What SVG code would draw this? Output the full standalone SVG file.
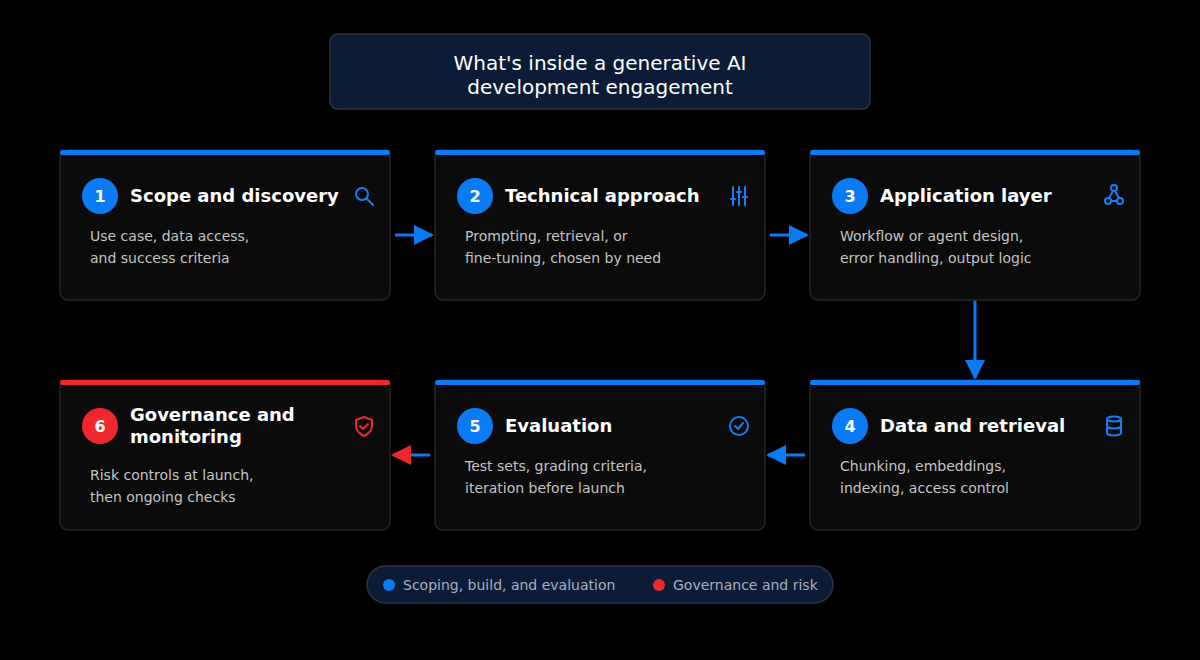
<svg xmlns="http://www.w3.org/2000/svg" width="1200" height="660" viewBox="0 0 1200 660">
<defs>
<style>
.card{fill:#0b0b0b;stroke:#262626;stroke-width:1.5}
.t{font-family:"DejaVu Sans",sans-serif;font-weight:bold;font-size:18px;fill:#fff}
.n{font-family:"DejaVu Sans",sans-serif;font-weight:bold;font-size:16px;fill:#fff;text-anchor:middle}
.b{font-family:"DejaVu Sans",sans-serif;font-size:14px;fill:#c4c4c4}
.ic{fill:none;stroke:#1a7cf0;stroke-width:2;stroke-linecap:round;stroke-linejoin:round}
.icr{fill:none;stroke:#f0282e;stroke-width:2;stroke-linecap:round;stroke-linejoin:round}
.con{stroke:#0a7af5;stroke-width:3;fill:none}
</style>
<marker id="ab" viewBox="0 0 10 10" refX="9" refY="5" markerWidth="20" markerHeight="20" markerUnits="userSpaceOnUse" orient="auto"><path d="M0,0L10,5L0,10z" fill="#0a7af5"/></marker>
<marker id="ar" viewBox="0 0 10 10" refX="9" refY="5" markerWidth="20" markerHeight="20" markerUnits="userSpaceOnUse" orient="auto"><path d="M0,0L10,5L0,10z" fill="#f0282e"/></marker>
</defs>
<rect width="1200" height="660" fill="#000"/>
<g id="title">
<rect x="330" y="34" width="540" height="75" rx="8" fill="#0c1c36" stroke="#2a3548" stroke-width="1.5"/>
<text x="600" y="70" font-family="DejaVu Sans,sans-serif" font-size="20" fill="#fff" text-anchor="middle">What's inside a generative AI</text>
<text x="600" y="94" font-family="DejaVu Sans,sans-serif" font-size="20" fill="#fff" text-anchor="middle">development engagement</text>
</g>
<g id="connectors">
<line class="con" x1="395" y1="235" x2="432" y2="235" marker-end="url(#ab)"/>
<line class="con" x1="770" y1="235" x2="807" y2="235" marker-end="url(#ab)"/>
<line class="con" x1="975" y1="300" x2="975" y2="378" marker-end="url(#ab)"/>
<line class="con" x1="805" y1="455" x2="768" y2="455" marker-end="url(#ab)"/>
<line class="con" x1="430" y1="455" x2="393" y2="455" stroke="#f0282e" marker-end="url(#ar)"/>
</g>
<g id="n1">
<rect class="card" x="60" y="150" width="330" height="150" rx="8"/>
<rect x="60" y="150" width="330" height="5" rx="2" fill="#0a7af5"/>
<circle cx="100" cy="196" r="18" fill="#0a7af5"/><text class="n" x="100" y="202">1</text>
<text class="t" x="130" y="202">Scope and discovery</text>
<circle class="ic" cx="362" cy="194" r="6"/><line class="ic" x1="367" y1="199" x2="373" y2="205"/>
<text class="b" x="90" y="241">Use case, data access,</text>
<text class="b" x="90" y="263">and success criteria</text>
</g>
<g id="n2">
<rect class="card" x="435" y="150" width="330" height="150" rx="8"/>
<rect x="435" y="150" width="330" height="5" rx="2" fill="#0a7af5"/>
<circle cx="475" cy="196" r="18" fill="#0a7af5"/><text class="n" x="475" y="202">2</text>
<text class="t" x="505" y="202">Technical approach</text>
<path class="ic" d="M733,187v18M739,187v18M745,187v18M731,199h4M737,192h4M743,197h4"/>
<text class="b" x="465" y="241">Prompting, retrieval, or</text>
<text class="b" x="465" y="263">fine-tuning, chosen by need</text>
</g>
<g id="n3">
<rect class="card" x="810" y="150" width="330" height="150" rx="8"/>
<rect x="810" y="150" width="330" height="5" rx="2" fill="#0a7af5"/>
<circle cx="850" cy="196" r="18" fill="#0a7af5"/><text class="n" x="850" y="202">3</text>
<text class="t" x="880" y="202">Application layer</text>
<circle class="ic" cx="1114" cy="188" r="3"/><circle class="ic" cx="1108" cy="201" r="3"/><circle class="ic" cx="1120" cy="201" r="3"/>
<path class="ic" d="M1113,191l-4,7M1115,191l4,7M1111,201h6"/>
<text class="b" x="840" y="241">Workflow or agent design,</text>
<text class="b" x="840" y="263">error handling, output logic</text>
</g>
<g id="n4">
<rect class="card" x="810" y="380" width="330" height="150" rx="8"/>
<rect x="810" y="380" width="330" height="5" rx="2" fill="#0a7af5"/>
<circle cx="850" cy="426" r="18" fill="#0a7af5"/><text class="n" x="850" y="432">4</text>
<text class="t" x="880" y="432">Data and retrieval</text>
<ellipse class="ic" cx="1114" cy="419" rx="7" ry="2.5"/>
<path class="ic" d="M1107,419v14a7,2.5 0 0 0 14,0v-14M1107,426a7,2.5 0 0 0 14,0"/>
<text class="b" x="840" y="471">Chunking, embeddings,</text>
<text class="b" x="840" y="493">indexing, access control</text>
</g>
<g id="n5">
<rect class="card" x="435" y="380" width="330" height="150" rx="8"/>
<rect x="435" y="380" width="330" height="5" rx="2" fill="#0a7af5"/>
<circle cx="475" cy="426" r="18" fill="#0a7af5"/><text class="n" x="475" y="432">5</text>
<text class="t" x="505" y="432">Evaluation</text>
<circle class="ic" cx="739" cy="426" r="9"/><path class="ic" d="M735,426l3,3l5,-6"/>
<text class="b" x="465" y="471">Test sets, grading criteria,</text>
<text class="b" x="465" y="493">iteration before launch</text>
</g>
<g id="n6">
<rect class="card" x="60" y="380" width="330" height="150" rx="8"/>
<rect x="60" y="380" width="330" height="5" rx="2" fill="#f0282e"/>
<circle cx="100" cy="426" r="18" fill="#f0282e"/><text class="n" x="100" y="432">6</text>
<text class="t" x="130" y="421">Governance and</text>
<text class="t" x="130" y="443">monitoring</text>
<path class="icr" d="M364,417l8,3v6c0,5-4,8-8,10c-4-2-8-5-8-10v-6z"/><path class="icr" d="M360,426l3,3l5,-5"/>
<text class="b" x="90" y="480">Risk controls at launch,</text>
<text class="b" x="90" y="502">then ongoing checks</text>
</g>
<g id="legend">
<rect x="367" y="566" width="466" height="37" rx="18.5" fill="#0c1c36" stroke="#2a3548" stroke-width="1.5"/>
<circle cx="389" cy="585" r="6" fill="#0a7af5"/>
<text x="403" y="590" font-family="DejaVu Sans,sans-serif" font-size="14" fill="#a8b0bc">Scoping, build, and evaluation</text>
<circle cx="659" cy="585" r="6" fill="#f0282e"/>
<text x="673" y="590" font-family="DejaVu Sans,sans-serif" font-size="14" fill="#a8b0bc">Governance and risk</text>
</g>
</svg>
